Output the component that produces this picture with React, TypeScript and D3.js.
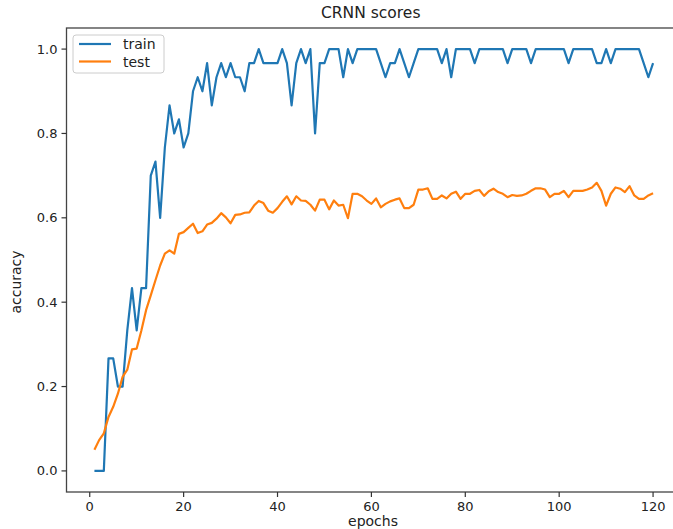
import React from "react";
import * as d3 from "d3";

const epochs: number[] = Array.from({ length: 120 }, (_, i) => i + 1);

const trainAcc: number[] = [
  0, 0, 0, 0.2667, 0.2667, 0.2, 0.2, 0.3333, 0.4333, 0.3333,
  0.4333, 0.4333, 0.7, 0.7333, 0.6, 0.7667, 0.8667, 0.8, 0.8333, 0.7667,
  0.8, 0.9, 0.9333, 0.9, 0.9667, 0.8667, 0.9333, 0.9667, 0.9333, 0.9667,
  0.9333, 0.9333, 0.9, 0.9667, 0.9667, 1.0, 0.9667, 0.9667, 0.9667, 0.9667,
  1.0, 0.9667, 0.8667, 0.9667, 1.0, 0.9667, 1.0, 0.8, 0.9667, 0.9667,
  1.0, 1.0, 1.0, 0.9333, 1.0, 0.9667, 1.0, 1.0, 1.0, 1.0,
  1.0, 0.9667, 0.9333, 0.9667, 0.9667, 1.0, 0.9667, 0.9333, 0.9667, 1.0,
  1.0, 1.0, 1.0, 1.0, 0.9667, 1.0, 0.9333, 1.0, 1.0, 1.0,
  1.0, 0.9667, 1.0, 1.0, 1.0, 1.0, 1.0, 1.0, 0.9667, 1.0,
  1.0, 1.0, 1.0, 0.9667, 1.0, 1.0, 1.0, 1.0, 1.0, 1.0,
  1.0, 0.9667, 1.0, 1.0, 1.0, 1.0, 1.0, 0.9667, 0.9667, 1.0,
  0.9667, 1.0, 1.0, 1.0, 1.0, 1.0, 1.0, 0.9667, 0.9333, 0.9667,
];

const testAcc: number[] = [
  0.05, 0.073, 0.089, 0.128, 0.152, 0.183, 0.223, 0.24, 0.288, 0.29,
  0.333, 0.381, 0.416, 0.452, 0.487, 0.515, 0.523, 0.515, 0.562, 0.566,
  0.576, 0.586, 0.564, 0.568, 0.584, 0.588, 0.598, 0.611, 0.601, 0.587,
  0.607, 0.608, 0.612, 0.613, 0.629, 0.64, 0.635, 0.617, 0.612, 0.623,
  0.638, 0.651, 0.632, 0.651, 0.641, 0.64, 0.631, 0.617, 0.643, 0.643,
  0.62, 0.641, 0.629, 0.631, 0.599, 0.657, 0.657, 0.651, 0.641, 0.633,
  0.646, 0.625, 0.633, 0.639, 0.643, 0.646, 0.623, 0.623, 0.631, 0.667,
  0.667, 0.67, 0.645, 0.645, 0.653, 0.646, 0.657, 0.662, 0.645, 0.657,
  0.657, 0.664, 0.666, 0.652, 0.663, 0.669, 0.661, 0.657, 0.649, 0.654,
  0.652, 0.653, 0.657, 0.664, 0.67, 0.67, 0.667, 0.649, 0.657, 0.657,
  0.664, 0.649, 0.664, 0.664, 0.664, 0.667, 0.672, 0.683, 0.664, 0.629,
  0.657, 0.672, 0.669, 0.661, 0.675, 0.653, 0.645, 0.645, 0.653, 0.658,
];

const xTicks: number[] = [0, 20, 40, 60, 80, 100, 120];
const yTicks: number[] = [0.0, 0.2, 0.4, 0.6, 0.8, 1.0];
const seriesNames: string[] = ["train", "test"];
const seriesColors: string[] = ["#1f77b4", "#ff7f0e"];

const W = 673;
const H = 529;
const left = 66.5;
const right = 681;
const top = 28;
const bottom = 492;

export default function App() {
  const x = d3.scaleLinear().domain([-4.95, 125.95]).range([left, right]);
  const y = d3.scaleLinear().domain([-0.05, 1.05]).range([bottom, top]);
  const line = d3
    .line<[number, number]>()
    .x((d) => x(d[0]))
    .y((d) => y(d[1]));
  const series = [trainAcc, testAcc];
  const font = "'DejaVu Sans', sans-serif";
  const tickColor = "#333";

  return (
    <svg
      width={W}
      height={H}
      style={{ position: "absolute", left: 0, top: 0, background: "#fff" }}
      fontFamily={font}
    >
      <rect x={0} y={0} width={W} height={H} fill="#fff" />
      <defs>
        <clipPath id="plotclip">
          <rect x={left} y={top} width={right - left} height={bottom - top} />
        </clipPath>
      </defs>
      <g clipPath="url(#plotclip)">
        {series.map((s, i) => (
          <path
            key={seriesNames[i]}
            d={line(epochs.map((e, j) => [e, s[j]] as [number, number])) || ""}
            fill="none"
            stroke={seriesColors[i]}
            strokeWidth={2.2}
            strokeLinejoin="round"
          />
        ))}
      </g>
      <rect
        x={left}
        y={top}
        width={right - left}
        height={bottom - top}
        fill="none"
        stroke="#444"
        strokeWidth={1.3}
      />
      {xTicks.map((t) => (
        <g key={"x" + t}>
          <line x1={x(t)} x2={x(t)} y1={bottom} y2={bottom + 5} stroke={tickColor} strokeWidth={1.2} />
          <text x={x(t)} y={bottom + 19} textAnchor="middle" fontSize={13} fill="#222">
            {t}
          </text>
        </g>
      ))}
      {yTicks.map((t) => (
        <g key={"y" + t}>
          <line x1={left - 5} x2={left} y1={y(t)} y2={y(t)} stroke={tickColor} strokeWidth={1.2} />
          <text x={left - 9} y={y(t) + 4.5} textAnchor="end" fontSize={13} fill="#222">
            {t.toFixed(1)}
          </text>
        </g>
      ))}
      <text x={(left + right) / 2 - 3} y={18} textAnchor="middle" fontSize={15.5} fill="#222">
        CRNN scores
      </text>
      <text x={373} y={526} textAnchor="middle" fontSize={14} fill="#222">
        epochs
      </text>
      <text
        transform={`translate(21, 282) rotate(-90)`}
        textAnchor="middle"
        fontSize={14}
        fill="#222"
      >
        accuracy
      </text>
      <rect x={73} y={35} width={91} height={38} rx={3} fill="#fff" fillOpacity={0.8} stroke="#ccc" strokeWidth={1} />
      {seriesNames.map((n, i) => (
        <g key={"lg" + n}>
          <line x1={79} x2={111} y1={44 + i * 17.5} y2={44 + i * 17.5} stroke={seriesColors[i]} strokeWidth={2.2} />
          <text x={123} y={49 + i * 17.5} fontSize={14} fill="#222">
            {n}
          </text>
        </g>
      ))}
    </svg>
  );
}
